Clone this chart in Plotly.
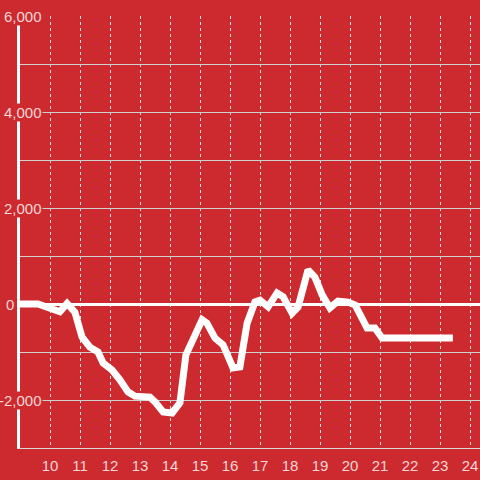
import plotly.graph_objects as go

# data
x_vals = [9.0, 9.6, 10.33, 10.57, 10.83, 11.07, 11.33, 11.6, 11.77, 12.07, 12.33, 12.6, 12.83,
          13.33, 13.5, 13.77, 14.07, 14.33, 14.53, 14.73, 15.07, 15.23, 15.5, 15.77, 16.0, 16.1,
          16.33, 16.57, 16.83, 17.0, 17.27, 17.57, 17.77, 18.07, 18.27, 18.6, 18.83, 19.07,
          19.33, 19.6, 19.93, 20.17, 20.57, 20.83, 21.07, 23.43]
y_vals = [0, 0, -160, 10, -170, -690, -900, -1000, -1230, -1375, -1580, -1830, -1920,
          -1940, -2040, -2250, -2270, -2060, -1060, -810, -330, -400, -710, -850, -1170, -1330,
          -1310, -400, 40, 80, -60, 230, 150, -190, -60, 710, 560, 190,
          -80, 60, 40, -20, -500, -500, -710, -710]
x_ticks = list(range(10, 25))
y_label_vals = [6000, 4000, 2000, 0, -2000]
y_label_text = ["6,000", "4,000", "2,000", "0", "-2,000"]

BG = "#CD2A2F"
TXT = "#F3D6D6"
FONT = "Liberation Sans, Arial"

fig = go.Figure()
fig.add_trace(go.Scatter(x=x_vals, y=y_vals, mode="lines",
                         line=dict(color="white", width=7), hoverinfo="skip"))

for v, t in zip(y_label_vals, y_label_text):
    if v == 0:
        fig.add_annotation(x=-0.008, xref="paper", y=v, yref="y", text=t, showarrow=False,
                           xanchor="right", yanchor="middle",
                           font=dict(color=TXT, size=15, family=FONT))
    else:
        fig.add_annotation(x=0.05, xref="paper", y=v, yref="y", text=t, showarrow=False,
                           xanchor="right", yanchor="middle", bgcolor=BG, borderpad=0,
                           font=dict(color=TXT, size=15, family=FONT))

fig.update_layout(
    width=480, height=480,
    margin=dict(l=20, r=0, t=16, b=32),
    paper_bgcolor=BG, plot_bgcolor=BG,
    showlegend=False,
    font=dict(family=FONT, size=14, color=TXT),
    xaxis=dict(range=[9, 24.333], tickvals=x_ticks, showgrid=True, gridcolor="#F0E0E0",
               griddash="dot", gridwidth=1, showline=True, linecolor="#D8D8D8", linewidth=1,
               zeroline=False, ticks="", ticklabelstandoff=4,
               tickfont=dict(color=TXT, size=15, family=FONT)),
    yaxis=dict(range=[-3000, 6000], dtick=1000, showgrid=True, gridcolor="#D0D0D0", gridwidth=1,
               showticklabels=False, ticks="", showline=True, linecolor="white", linewidth=3,
               zeroline=True, zerolinecolor="white", zerolinewidth=3),
)

fig.write_html("out.html", post_script="document.body.style.margin='0';",
               config={"displayModeBar": False})
